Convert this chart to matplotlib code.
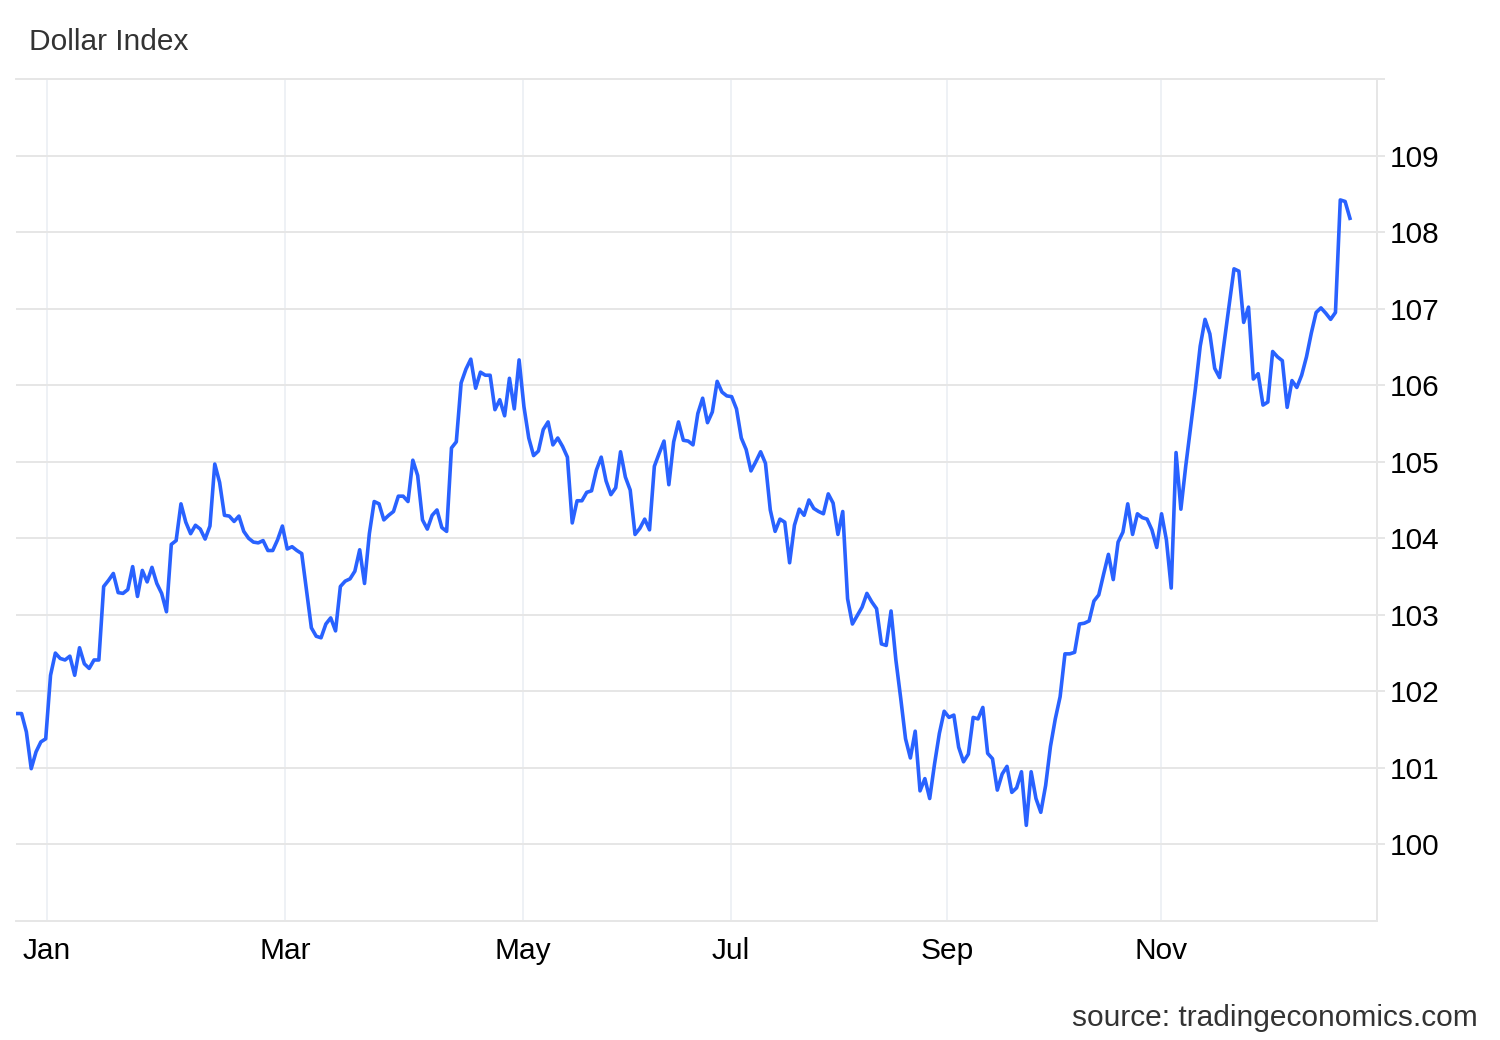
import matplotlib
matplotlib.use("Agg")
import matplotlib.pyplot as plt
import numpy as np

plt.rcParams['font.family'] = ['Liberation Sans', 'DejaVu Sans']

# daily closes of the dollar index (late Dec 2023 .. Dec 2024)
dxy = [
    101.71, 101.71, 101.47, 100.99, 101.21, 101.34, 101.38, 102.21, 102.50, 102.43,
    102.41, 102.46, 102.21, 102.57, 102.36, 102.30, 102.41, 102.41, 103.37, 103.45,
    103.54, 103.29, 103.28, 103.33, 103.63, 103.24, 103.58, 103.43, 103.62, 103.41,
    103.28, 103.04, 103.92, 103.97, 104.45, 104.21, 104.06, 104.17, 104.12, 103.99,
    104.16, 104.97, 104.73, 104.30, 104.29, 104.22, 104.29, 104.09, 104.00,
    103.95, 103.94, 103.97, 103.84, 103.84, 103.98, 104.16, 103.86, 103.89, 103.84,
    103.80, 103.32, 102.83, 102.72, 102.70, 102.88, 102.96, 102.79, 103.37, 103.44,
    103.47, 103.57, 103.85, 103.41, 104.06, 104.48, 104.45, 104.24, 104.30, 104.35,
    104.55, 104.55, 104.48, 105.02, 104.82, 104.24, 104.12, 104.30, 104.37, 104.14,
    104.09, 105.18, 105.26, 106.03, 106.21, 106.34,
    105.96, 106.17, 106.13, 106.13, 105.68, 105.81, 105.60, 106.09, 105.69, 106.33,
    105.72, 105.31, 105.08, 105.14, 105.42, 105.52, 105.22, 105.31, 105.20, 105.06,
    104.20, 104.49, 104.49, 104.60, 104.62, 104.89, 105.06, 104.75, 104.57, 104.66,
    105.13, 104.80, 104.63, 104.05, 104.13, 104.25, 104.11, 104.94, 105.11, 105.27,
    104.70, 105.26, 105.52, 105.28, 105.27, 105.22, 105.63, 105.83, 105.51, 105.65,
    106.05, 105.91, 105.86, 105.85, 105.69, 105.31, 105.16, 104.88, 105.00, 105.13,
    104.98, 104.37, 104.09, 104.25, 104.21, 103.68, 104.17, 104.38, 104.30, 104.50,
    104.39, 104.35, 104.32, 104.58, 104.46, 104.05, 104.35, 103.21, 102.88, 102.99,
    103.10, 103.28, 103.17, 103.08, 102.62, 102.60, 103.05, 102.41, 101.91, 101.38,
    101.13, 101.48, 100.70, 100.86, 100.60, 101.05, 101.45,
    101.74, 101.66, 101.69, 101.27, 101.08, 101.18, 101.66, 101.64, 101.79, 101.19,
    101.12, 100.71, 100.92, 101.02, 100.68, 100.74, 100.95, 100.25, 100.95, 100.60,
    100.42, 100.77, 101.28, 101.64, 101.93, 102.49, 102.49, 102.51, 102.88, 102.89,
    102.92, 103.18, 103.26, 103.53, 103.79, 103.46, 103.95, 104.08, 104.45, 104.05,
    104.32, 104.27, 104.25, 104.11, 103.88, 104.32, 103.98, 103.35,
    105.12, 104.38, 104.94, 105.45, 105.95, 106.51, 106.86, 106.67, 106.22, 106.10,
    106.58, 107.05, 107.52, 107.49, 106.82, 107.02, 106.08, 106.15, 105.74, 105.78,
    106.44, 106.37, 106.32, 105.71, 106.06, 105.97, 106.13, 106.37, 106.68, 106.95,
    107.01, 106.94, 106.86, 106.95, 108.42, 108.40, 108.18,
]

months = ['Jan', 'Mar', 'May', 'Jul', 'Sep', 'Nov']
month_pos = [6.3, 55.5, 104.8, 147.9, 192.6, 236.9]   # session index where each month starts
y_levels = list(range(100, 111))

idx = np.arange(len(dxy))

fig = plt.figure(figsize=(15, 10.4), dpi=100)
ax = fig.add_axes([16 / 1500, 1 - 921 / 1040, 1361 / 1500, 842 / 1040])

ax.plot(idx, dxy, color='#2962FF', lw=2.6, solid_joinstyle='round', zorder=3)

ax.set_xlim(-0.15, 281.6)
ax.set_ylim(99, 110)

ax.set_xticks(month_pos)
ax.set_xticklabels(months)
ax.set_yticks(y_levels)
ax.set_yticklabels([str(v) if v < 110 else '' for v in y_levels])
ax.yaxis.tick_right()

ax.tick_params(axis='x', length=0, pad=11.5, labelsize=21.5, labelcolor='#000000')
ax.tick_params(axis='y', length=5.8, width=1.4, color='#e6e6e6', pad=3.5,
               labelsize=21.5, labelcolor='#000000')

ax.set_axisbelow(True)
ax.grid(axis='y', color='#e6e6e6', lw=1.4)
ax.grid(axis='x', color='#eef1f5', lw=1.4)

ax.spines['left'].set_visible(False)
for s in ['top', 'bottom', 'right']:
    ax.spines[s].set_color('#e6e6e6')
    ax.spines[s].set_linewidth(1.4)

fig.text(29 / 1500, 1 - 42 / 1040, 'Dollar Index', ha='left', va='center',
         fontsize=21.5, color='#333333')
fig.text(1478 / 1500, 1 - 1018 / 1040, 'source: tradingeconomics.com', ha='right',
         va='center', fontsize=21.5, color='#333333')

fig.savefig('out.png', dpi=100)
